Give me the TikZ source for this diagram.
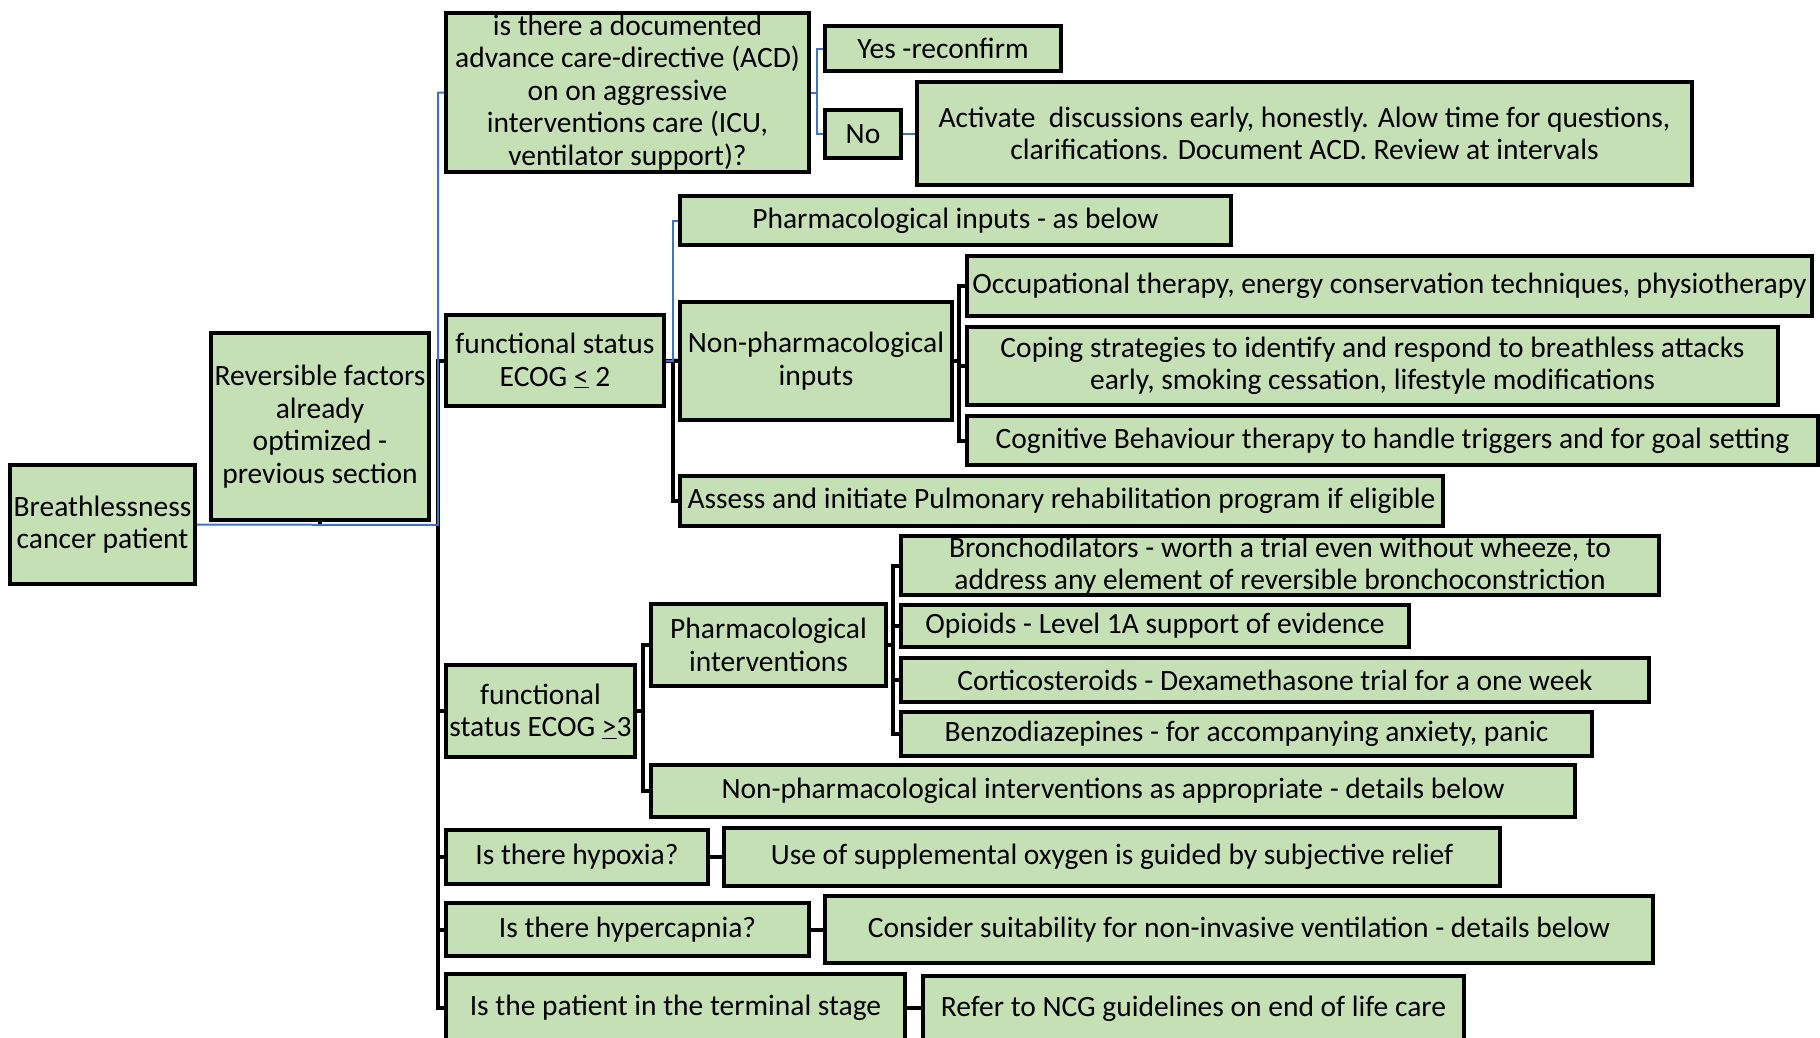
\documentclass[tikz,border=0pt]{standalone}
\usepackage{fontspec}
\setmainfont{Carlito}
\usetikzlibrary{calc}
\definecolor{boxfill}{HTML}{C5E0B4}
\definecolor{linkblue}{HTML}{4472C4}
\begin{document}
\begin{tikzpicture}[x=1pt,y=-1pt,
  box/.style={draw=black,line width=3.5pt,fill=boxfill,align=center,inner sep=0pt,
    font=\fontsize{29.5}{32.5}\selectfont},
  bk/.style={draw=black,line width=4pt},
  bl/.style={draw=linkblue,line width=2pt}]
\useasboundingbox (0,0) rectangle (1820,1037);
% nodes
\node[box,minimum width=185,minimum height=119] (br) at (102.5,524.5) {Breathlessness\\cancer patient};
\node[box,minimum width=218,minimum height=187] (rev) at (320,426.5) {Reversible factors\\already\\optimized -\\previous section};
\node[box,minimum width=363,minimum height=159] (acd) at (627.5,92.5) {is there a documented\\advance care-directive (ACD)\\on on aggressive\\interventions care (ICU,\\ventilator support)?};
\node[box,minimum width=236,minimum height=45] (yes) at (943,48.5) {Yes -reconfirm};
\node[box,minimum width=76,minimum height=48] (no) at (863,134) {No};
\node[box,minimum width=775,minimum height=103] (act) at (1304.5,133.5) {Activate\ \ discussions early, honestly. Alow time for questions,\\clarifications. Document ACD. Review at intervals};
\node[box,minimum width=551,minimum height=49] (phin) at (955.5,220.5) {Pharmacological inputs - as below};
\node[box,minimum width=218,minimum height=91] (e2) at (555,360.5) {functional status\\ECOG \underline{<} 2};
\node[box,minimum width=272,minimum height=118] (npin) at (816,361) {Non-pharmacological\\inputs};
\node[box,minimum width=845,minimum height=60] (occ) at (1389.5,286) {Occupational therapy, energy conservation techniques, physiotherapy};
\node[box,minimum width=811,minimum height=78] (cop) at (1372.5,366) {Coping strategies to identify and respond to breathless attacks\\early, smoking cessation, lifestyle modifications};
\node[box,minimum width=851,minimum height=49] (cog) at (1392.5,440.5) {Cognitive Behaviour therapy to handle triggers and for goal setting};
\node[box,minimum width=763,minimum height=50] (ass) at (1061.5,501) {Assess and initiate Pulmonary rehabilitation program if eligible};
\node[box,minimum width=189,minimum height=92] (e3) at (540.5,711) {functional\\status ECOG \underline{>}3};
\node[box,minimum width=235,minimum height=82] (phint) at (768.5,645) {Pharmacological\\interventions};
\node[box,minimum width=758,minimum height=59] (bro) at (1280,565.5) {Bronchodilators - worth a trial even without wheeze, to\\address any element of reversible bronchoconstriction};
\node[box,minimum width=508,minimum height=42] (opi) at (1155,626) {Opioids - Level 1A support of evidence};
\node[box,minimum width=748,minimum height=44] (cor) at (1275,680) {Corticosteroids - Dexamethasone trial for a one week};
\node[box,minimum width=691,minimum height=44] (ben) at (1246.5,734) {Benzodiazepines - for accompanying anxiety, panic};
\node[box,minimum width=924,minimum height=52] (npint) at (1113,791) {Non-pharmacological interventions as appropriate - details below};
\node[box,minimum width=262,minimum height=54] (hyp) at (577,857) {Is there hypoxia?};
\node[box,minimum width=776,minimum height=58] (oxy) at (1112,857) {Use of supplemental oxygen is guided by subjective relief};
\node[box,minimum width=363,minimum height=53] (hcap) at (627.5,929.5) {Is there hypercapnia?};
\node[box,minimum width=828,minimum height=67] (niv) at (1239,929.5) {Consider suitability for non-invasive ventilation - details below};
\node[box,minimum width=459,minimum height=68] (term) at (675.5,1008) {Is the patient in the terminal stage};
\node[box,minimum width=541,minimum height=66] (ncg) at (1193.5,1009) {Refer to NCG guidelines on end of life care};
% junction coordinates
\coordinate (sp) at (438,525);
\coordinate (t1) at (817,92.5);
\coordinate (t2) at (673,360.5);
\coordinate (t3) at (959,361);
\coordinate (t4) at (643,711);
\coordinate (t5) at (893,645);
% black connectors
\draw[bk] (rev.south) -- (rev.south |- sp);
\draw[bk] (sp) |- (e2.west);
\draw[bk] (sp) |- (e3.west);
\draw[bk] (sp) |- (hyp.west);
\draw[bk] (sp) |- (hcap.west);
\draw[bk] (sp) |- (term.west);
\draw[bk] (e2.east) -- (t2);
\draw[bk] (t2) -- (npin.west);
\draw[bk] (t2) |- (ass.west);
\draw[bk] (npin.east) -- (t3);
\draw[bk] (t3) |- (occ.west);
\draw[bk] (t3) |- (cop.west);
\draw[bk] (t3) |- (cog.west);
\draw[bk] (e3.east) -- (t4);
\draw[bk] (t4) |- (phint.west);
\draw[bk] (t4) |- (npint.west);
\draw[bk] (phint.east) -- (t5);
\draw[bk] (t5) |- (bro.west);
\draw[bk] (t5) |- (opi.west);
\draw[bk] (t5) |- (cor.west);
\draw[bk] (t5) |- (ben.west);
\draw[bk] (hyp.east) -- (oxy.west);
\draw[bk] (hcap.east) -- (niv.west);
\draw[bk] (term.east) -- (term.east -| ncg.west);
% blue connectors
\draw[bl] (br.east) -- (sp) |- (acd.west);
\draw[bl] (acd.east) -- (t1);
\draw[bl] (t1) |- (yes.west);
\draw[bl] (t1) |- (no.west);
\draw[bl] (no.east) -- (no.east -| act.west);
\draw[bl] (e2.east) -- (t2) |- (phin.west);
\end{tikzpicture}
\end{document}
